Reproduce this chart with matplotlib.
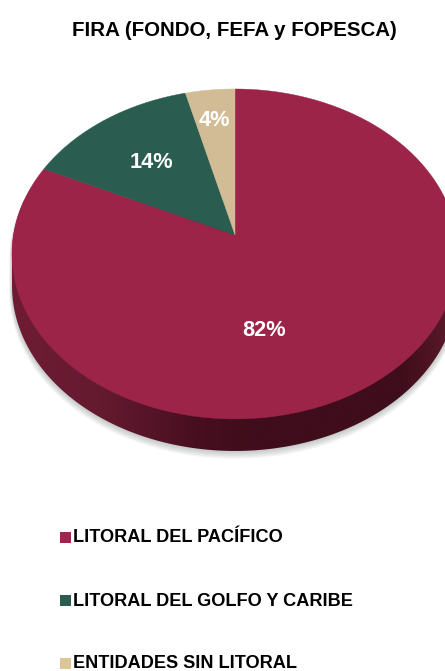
import numpy as np
import matplotlib
matplotlib.use("Agg")
import matplotlib.pyplot as plt
from matplotlib.colors import LinearSegmentedColormap
from matplotlib.patches import Polygon, Rectangle

# --- Data ---
TITLE = "FIRA (FONDO, FEFA y FOPESCA)"
categories = ["LITORAL DEL PACÍFICO", "LITORAL DEL GOLFO Y CARIBE", "ENTIDADES SIN LITORAL"]
shares = [82, 14, 4]
colors = ["#9C2448", "#2A5D4F", "#D2BC96"]
legend_colors = ["#A32350", "#2A5D4F", "#DCC698"]

# --- Pie geometry, in figure pixels ---
CX, CY = 235, 235
RX, RY = 221.5, 162.8
TILT = 0.115
DEPTH = 32


def project(theta):
    # clockwise angle from the top, seen with a bit of perspective
    x, y = np.sin(theta), np.cos(theta)
    d = 1 + TILT * y
    return CX + RX * x / d, CY - RY * y / d


plt.rcParams["font.family"] = ["Liberation Sans", "DejaVu Sans"]
fig = plt.figure(figsize=(4.45, 6.71), dpi=100)
ax = fig.add_axes([0, 0, 1, 1])

# --- Side of the disc and its soft shadow ---
t = np.linspace(0, 2 * np.pi, 721)
ox, oy = project(t)
mid = (oy.min() + oy.max()) / 2
side = np.column_stack([ox, oy + DEPTH * (oy > mid)])
side = side[np.argsort(np.arctan2(side[:, 1] - mid - DEPTH / 2, side[:, 0] - CX))]

for grow in range(1, 7):
    pts = side + [0, grow * 0.9]
    scale = 1 + grow * 0.002
    pts = (pts - [CX, mid]) * scale + [CX, mid]
    ax.add_patch(Polygon(pts, fc="#707878", ec="none", alpha=0.07, zorder=1))

side_cmap = LinearSegmentedColormap.from_list(
    "side",
    [(0, "#6E1C34"), (0.2, "#651A30"), (0.42, "#480F20"), (0.55, "#3F0D1B"),
     (0.9, "#3F0D1B"), (1, "#571828")],
)
grad = ax.imshow(np.linspace(0, 1, 256)[None, :], cmap=side_cmap, aspect="auto",
                 extent=(12, 445, 480, 200), zorder=2)
side_patch = Polygon(side, fc="none", ec="none", transform=ax.transData)
ax.add_patch(side_patch)
grad.set_clip_path(side_patch)

# --- Slices ---
edges = np.cumsum([0] + shares) / sum(shares) * 2 * np.pi
for start, end, color in zip(edges[:-1], edges[1:], colors):
    arc = np.linspace(start, end, 300)
    px, py = project(arc)
    verts = np.column_stack([np.r_[CX, px], np.r_[CY, py]])
    ax.add_patch(Polygon(verts, fc=color, ec=color, lw=0.3, zorder=3))

# --- Value labels ---
label_pos = [(264, 331), (151, 162), (214, 121)]
for share, (lx, ly) in zip(shares, label_pos):
    ax.text(lx, ly, f"{share}%", color="white", fontsize=15.7, fontweight="bold",
            ha="center", va="center", zorder=4)

# --- Title and legend ---
ax.text(234, 30, TITLE, fontsize=14.8, fontweight="bold", ha="center", va="center", color="black")
for i, (name, color) in enumerate(zip(categories, legend_colors)):
    y = 537 + i * 63
    ax.add_patch(Rectangle((60, y - 5), 11, 11, fc=color, ec="none"))
    ax.text(73, y + 1, name, fontsize=13.1, fontweight="bold", ha="left", va="center", color="black")

ax.set_xlim(0, 445)
ax.set_ylim(671, 0)
ax.axis("off")
fig.savefig("out.png", dpi=100, facecolor="white")
